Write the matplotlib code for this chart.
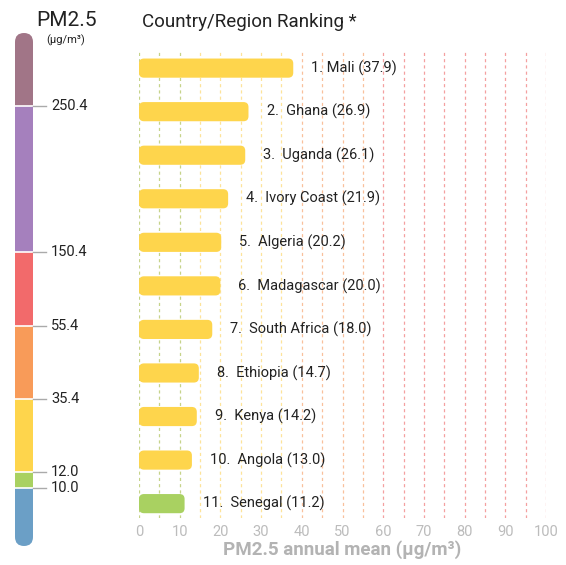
import numpy as np
import matplotlib
matplotlib.use("Agg")
import matplotlib.pyplot as plt
from matplotlib.patches import FancyBboxPatch
from matplotlib.scale import FuncScale

plt.rcParams['font.family'] = ['Roboto', 'DejaVu Sans']

# --- ranking data ---
labels = ["1. Mali", "2.  Ghana", "3.  Uganda", "4.  Ivory Coast", "5.  Algeria",
          "6.  Madagascar", "7.  South Africa", "8.  Ethiopia", "9.  Kenya",
          "10.  Angola", "11.  Senegal"]
values = [37.9, 26.9, 26.1, 21.9, 20.2, 20.0, 18.0, 14.7, 14.2, 13.0, 11.2]

# --- PM2.5 band breakpoints for the side legend ---
band_edges = [0, 10.0, 12.0, 35.4, 55.4, 150.4, 250.4, 500]
band_ticks = [10.0, 12.0, 35.4, 55.4, 150.4, 250.4]
band_colors = ["#6b9fc6", "#a9d161", "#fed54c", "#f89b59", "#f26a6b", "#a580bd", "#a17587"]
# visual height given to each band on the legend bar (layout only)
band_layout = [0, 58, 74, 147, 220, 294, 440, 513]

x_ticks = list(range(0, 101, 10))

YELLOW = "#fed54c"
GREEN = "#a9d161"

W, H = 566, 565
fig = plt.figure(figsize=(W / 100, H / 100), dpi=100)

# ---------------- main bar chart ----------------
ax = fig.add_axes([139 / W, 1 - 518 / H, 407 / W, 466 / H])
n = len(values)
rows = np.arange(n)
ax.set_xlim(0, 100)
ax.set_ylim(n - 1 + 0.33, -0.37)

# dashed guide lines every 5 units, tinted by air-quality band
for g in range(0, 101, 5):
    if g <= 12:
        c = "#c6d38a"
    elif g <= 35.4:
        c = "#fde39a"
    elif g <= 55.4:
        c = "#f9c09c"
    else:
        c = "#f4a0a0"
    ax.axvline(g, color=c, lw=0.9, ls=(0, (2.5, 2.5)), zorder=0)

bar_h = 0.44
bars = ax.barh(rows, values, height=bar_h, left=0)
x_per_px = 100 / 407
y_per_px = (n - 1 + 0.70) / 466
for rect, v in zip(bars.patches, values):
    rect.set_visible(False)
    col = GREEN if v <= 12 else YELLOW
    fb = FancyBboxPatch((rect.get_x(), rect.get_y()), rect.get_width(), rect.get_height(),
                        boxstyle=f"round,pad=0,rounding_size={5 * x_per_px}",
                        mutation_aspect=y_per_px / x_per_px,
                        facecolor=col, edgecolor="none", zorder=2)
    ax.add_patch(fb)

for r, lab, v in zip(rows, labels, values):
    ax.annotate(f"{lab} ({v:.1f})", xy=(v, r), xytext=(13, 0),
                textcoords="offset points", ha="left", va="center",
                fontsize=10.5, color="#222222", zorder=3)

ax.set_xticks(x_ticks)
ax.set_xticklabels([str(t) for t in x_ticks])
ax.tick_params(axis="x", length=0, labelsize=10.5, labelcolor="#bcbcbc", pad=5)
ax.set_yticks([])
for s in ax.spines.values():
    s.set_visible(False)
ax.set_xlabel("PM2.5 annual mean (μg/m³)", fontsize=13.5, fontweight="bold",
              color="#b3b3b3", labelpad=1)

fig.text(142 / W, 1 - 22 / H, "Country/Region Ranking *", fontsize=13.5,
         color="#222222", ha="left", va="center")

# ---------------- PM2.5 legend bar ----------------
cax = fig.add_axes([15 / W, 1 - 546 / H, 18 / W, 513 / H])
fwd = lambda v: np.interp(v, band_edges, band_layout)
inv = lambda p: np.interp(p, band_layout, band_edges)
cax.set_yscale(FuncScale(cax, (fwd, inv)))
cax.set_xlim(0, 1)
cax.set_ylim(band_edges[0], band_edges[-1])
lo = band_edges[:-1]
hi = band_edges[1:]
seg = cax.bar([0.5] * len(lo), np.subtract(hi, lo), bottom=lo, width=1.0,
              color=band_colors, edgecolor="none")
clip = FancyBboxPatch((0, 0), 1, 1, boxstyle="round,pad=0,rounding_size=0.5",
                      mutation_aspect=18 / 513, transform=cax.transAxes,
                      facecolor="none", edgecolor="none")
cax.add_patch(clip)
for p in seg.patches:
    p.set_clip_path(clip)
for t in band_ticks:
    cax.axhline(t, color="white", lw=1.2, zorder=3)
cax.set_axis_off()

# tick marks and values beside the legend bar
for t in band_ticks:
    ypix = fwd(t)
    yfig = (H - 546 + ypix) / H
    fig.add_artist(plt.Line2D([33 / W, 46 / W], [yfig, yfig], color="#aaaaaa", lw=1.0))
    fig.text(51 / W, yfig, f"{t:.1f}", fontsize=10.5, color="#222222",
             ha="left", va="center")

fig.text(67 / W, 1 - 20 / H, "PM2.5", fontsize=15, color="#222222",
         ha="center", va="center")
fig.text(66 / W, 1 - 40 / H, "(μg/m³)", fontsize=8, color="#222222",
         ha="center", va="center")

fig.savefig("out.png", dpi=100)
